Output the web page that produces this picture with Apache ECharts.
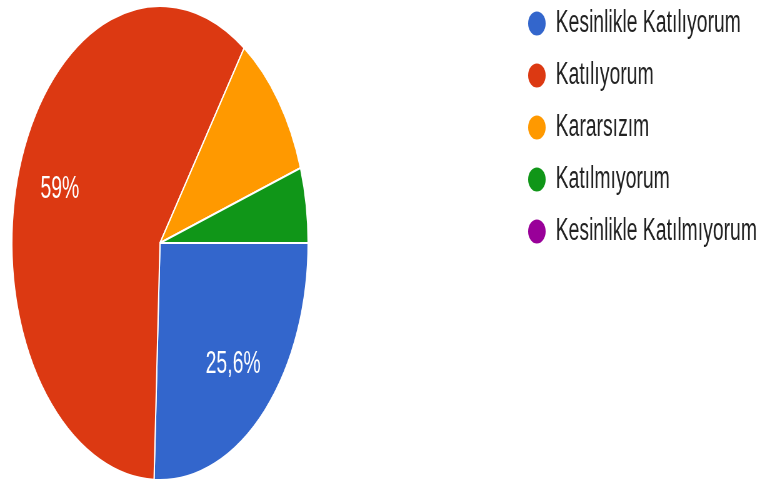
<!DOCTYPE html>
<html>
<head>
<meta charset="utf-8">
<script src="https://cdn.jsdelivr.net/npm/echarts@6/dist/echarts.min.js"></script>
<style>
    html, body { margin: 0; padding: 0; background: #fff; overflow: hidden; }
    /* the reference is squeezed sideways, so draw wide and squeeze the same way */
    #chart { width: 1232px; height: 481px; transform: scaleX(0.625); transform-origin: 0 0; }
</style>
</head>
<body>
<div id="chart"></div>
<script>
var categories = ['Kesinlikle Katılıyorum', 'Katılıyorum', 'Kararsızım', 'Katılmıyorum', 'Kesinlikle Katılmıyorum'];
var counts = [10, 23, 4, 2, 0];
var colors = ['#3366cc', '#dc3912', '#ff9900', '#109618', '#990099'];

var pieData = [];
categories.forEach(function (name, i) {
    pieData.push({ name: name, value: counts[i] });
});

function pctText(p) {
    var v = Math.round(p * 10) / 10;
    return String(v).replace('.', ',') + '%';
}

var chart = echarts.init(document.getElementById('chart'));
chart.setOption({
    color: colors,
    animation: false,
    legend: {
        orient: 'vertical',
        left: 838,
        top: 3,
        icon: 'path://M0,13A15,13,0,1,1,30,13A15,13,0,1,1,0,13Z',
        itemWidth: 30,
        itemHeight: 26,
        itemGap: 21,
        textStyle: {
            fontFamily: 'Arial',
            fontSize: 31,
            color: '#222',
            padding: [0, 0, 0, 10]
        },
        data: categories
    },
    series: [
        {
            type: 'pie',
            center: [256, 243],
            radius: [0, 237],
            startAngle: 0,
            clockwise: true,
            silent: true,
            itemStyle: { borderColor: '#fff', borderWidth: 2 },
            label: { show: false },
            labelLine: { show: false },
            data: pieData
        },
        {
            // invisible ring only used to place the percent labels further out
            type: 'pie',
            center: [256, 243],
            radius: [95, 237],
            startAngle: 0,
            clockwise: true,
            silent: true,
            itemStyle: { color: 'rgba(0,0,0,0)' },
            label: {
                show: true,
                position: 'inside',
                color: '#fff',
                fontFamily: 'Arial',
                fontSize: 31,
                formatter: function (p) {
                    return p.percent >= 20 ? pctText(p.percent) : '';
                }
            },
            labelLine: { show: false },
            data: pieData
        }
    ]
});
</script>
</body>
</html>
